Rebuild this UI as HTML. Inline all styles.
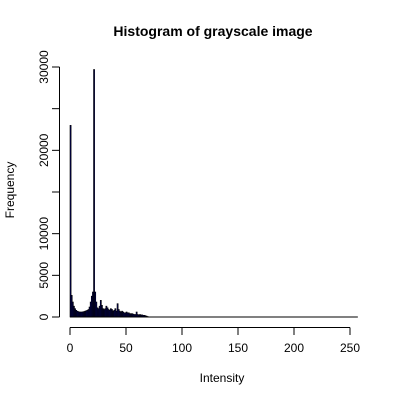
<!DOCTYPE html>
<html><head><meta charset="utf-8"><style>body{margin:0;background:#fff}svg{display:block;font-family:"Liberation Sans",sans-serif}</style></head>
<body>
<svg id="c" width="400" height="400">
<text x="213" y="36" text-anchor="middle" font-size="14" font-weight="bold">Histogram of grayscale image</text>
<text x="222" y="382" text-anchor="middle" font-size="12">Intensity</text>
<text transform="translate(14,190) rotate(-90)" text-anchor="middle" font-size="12">Frequency</text>
<g id="bars"></g>
<g id="axes"></g>
</svg>
<script>
const freqs = [23000,2600,1800,1300,1000,800,700,650,600,600,600,620,650,700,750,800,900,1200,1800,2500,3000,29700,3000,1800,1100,1000,1300,2000,1400,1000,900,1000,1300,1100,900,800,1000,900,700,800,1000,700,1600,900,700,600,700,600,500,500,600,500,500,400,400,400,350,300,300,600,300,250,300,250,250,200,200,150,100,50,20];
const xTicks = [0,50,100,150,200,250];
const yTicks = [0,5000,10000,15000,20000,25000,30000];
const yLabels = [0,5000,10000,20000,30000];
const NS="http://www.w3.org/2000/svg";
const sx=v=>70+v*1.12, sy=v=>317-v*250/30000;
const bars=document.getElementById('bars'), axes=document.getElementById('axes');
function mk(p,tag,a){const e=document.createElementNS(NS,tag);for(const k in a)e.setAttribute(k,a[k]);p.appendChild(e);return e;}
freqs.forEach((f,i)=>{
 const r=mk(bars,'rect',{x:sx(i),y:sy(f),width:1.12,height:sy(0)-sy(f),fill:'#000066',stroke:'#000','stroke-width':0.6});
 
 
});
const base=mk(bars,'line',{x1:sx(0),x2:sx(257),y1:317,y2:317,stroke:'#000','stroke-width':1});


mk(axes,'line',{x1:59.5,x2:59.5,y1:sy(0),y2:sy(30000),stroke:'#000'});
yTicks.forEach(t=>{mk(axes,'line',{x1:52,x2:59.5,y1:sy(t),y2:sy(t),stroke:'#000'});});
yLabels.forEach(t=>{const e=mk(axes,'text',{transform:`translate(48,${sy(t)}) rotate(-90)`,'text-anchor':'middle','font-size':12});e.textContent=t;
 
 });
mk(axes,'line',{x1:sx(0),x2:sx(250),y1:327.5,y2:327.5,stroke:'#000'});
xTicks.forEach(t=>{mk(axes,'line',{x1:sx(t),x2:sx(t),y1:327.5,y2:335,stroke:'#000'});
 const e=mk(axes,'text',{x:sx(t),y:352,'text-anchor':'middle','font-size':12});e.textContent=t;
 
 });
</script>
</body></html>
